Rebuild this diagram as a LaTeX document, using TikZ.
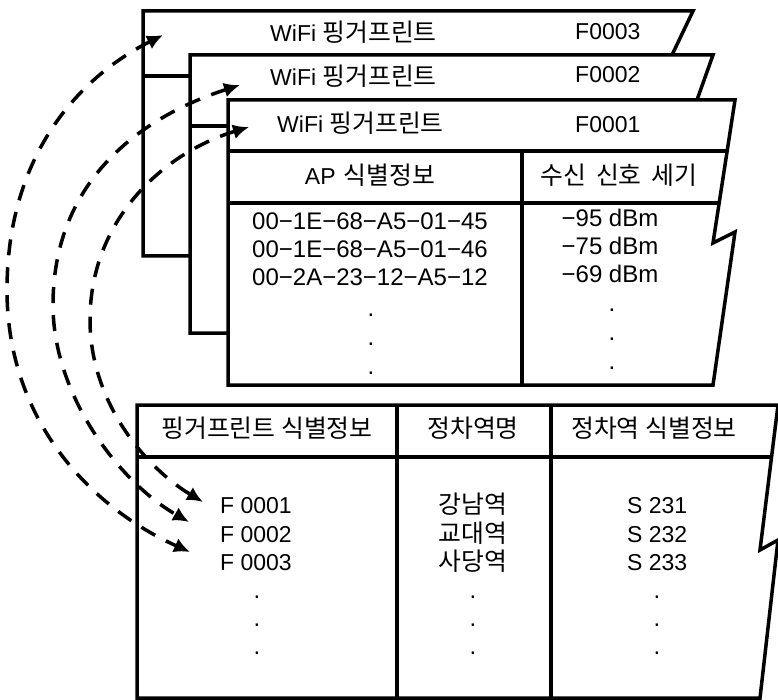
\documentclass[tikz,border=0pt]{standalone}
\usepackage{fontspec}
\setmainfont{Liberation Sans}
\newfontfamily\kr{Noto Sans CJK KR}[Scale=1.08]
\usetikzlibrary{arrows.meta}
\tikzset{
  edge/.style={line width=3.5pt, line join=miter},
  card/.style={edge, fill=white},
  txt/.style={inner sep=0pt, anchor=base, font=\fontsize{23}{27}\selectfont},
  txtw/.style={txt, anchor=base west},
  mac/.style={txt, font=\fontsize{24}{28}\selectfont},
  dotm/.style={inner sep=0pt, font=\fontsize{24}{27}\selectfont},
  link/.style={line width=3.5pt, dash pattern=on 16pt off 12pt,
    {Latex[length=16pt,width=15pt]}-{Latex[length=16pt,width=15pt]}},
}
\begin{document}
\begin{tikzpicture}[x=1pt,y=-1pt]
\useasboundingbox (0,0) rectangle (778,700);

% card 3 (back)
\draw[card] (143,11) -- (693,11) -- (576,256) -- (143,256) -- cycle;
\draw[edge] (143,76) -- (640,76);
% card 2
\draw[card] (190,55) -- (713,55) -- (614,333) -- (190,333) -- cycle;
\draw[edge] (190,126) -- (680,126);
% card 1 (front)
\draw[card] (228,100) -- (735,100) -- (713,243) -- (735,232) -- (713,385) -- (228,385) -- cycle;
\draw[edge] (228,151) -- (727.2,151);
\draw[edge] (228,203) -- (719.2,203);
\draw[edge] (522,151) -- (522,385);

% header texts
\node[txtw] (w3) at (270,42) {WiFi {\kr 핑거프린트}};
\node[txtw] (f3) at (575,40) {F0003};
\node[txtw] (w2) at (270,86) {WiFi {\kr 핑거프린트}};
\node[txtw] (f2) at (575,83) {F0002};
\node[txtw] (w1) at (277,133) {WiFi {\kr 핑거프린트}};
\node[txtw] (f1) at (575,133) {F0001};

\node[txt] (aph) at (370,185) {AP\hspace{0.35em}{\kr 식별정보}};
\node[txt] (rsh) at (619,185) {\kr 수신\hspace{0.4em}신호\hspace{0.4em}세기};

\node[mac] (m1) at (370,230) {00−1E−68−A5−01−45};
\node[mac] (m2) at (370,258) {00−1E−68−A5−01−46};
\node[mac] (m3) at (370,286) {00−2A−23−12−A5−12};
\node[mac] (d1) at (610,227) {−95 dBm};
\node[mac] (d2) at (610,255) {−75 dBm};
\node[mac] (d3) at (610,283) {−69 dBm};
\node[dotm] (md1) at (371,315) {.};
\node[dotm] (md2) at (371,344) {.};
\node[dotm] (md3) at (371,373) {.};
\node[dotm] (dd1) at (612,310) {.};
\node[dotm] (dd2) at (612,339) {.};
\node[dotm] (dd3) at (612,368) {.};

% bottom table
\draw[card] (137,405) -- (778,405) -- (760,550) -- (778,540) -- (760,698) -- (137,698) -- cycle;
\draw[edge] (137,457) -- (771.5,457);
\draw[edge] (397,405) -- (397,698);
\draw[edge] (551,405) -- (551,698);

\node[txt] (h1) at (267,437) {\kr 핑거프린트 식별정보};
\node[txt] (h2) at (473,437) {\kr 정차역명};
\node[txt] (h3) at (654,437) {\kr 정차역 식별정보};

\node[txtw] (r1) at (220,513) {F 0001};
\node[txtw] (r2) at (220,542) {F 0002};
\node[txtw] (r3) at (220,570) {F 0003};
\node[txt] (s1) at (473,513) {\kr 강남역};
\node[txt] (s2) at (473,542) {\kr 교대역};
\node[txt] (s3) at (473,570) {\kr 사당역};
\node[txtw] (i1) at (627,513) {S 231};
\node[txtw] (i2) at (627,542) {S 232};
\node[txtw] (i3) at (627,570) {S 233};

\foreach \x/\n in {257/a,473/b,657/c}{
  \node[dotm] (\n1) at (\x,597) {.};
  \node[dotm] (\n2) at (\x,625) {.};
  \node[dotm] (\n3) at (\x,653) {.};
}

% dashed double arrows
\coordinate (t3) at (163,35);
\coordinate (b3) at (190,552);
\coordinate (t2) at (240,85);
\coordinate (b2) at (189,522);
\coordinate (t1) at (249,127);
\coordinate (b1) at (203,502);
\draw[link] (t3) .. controls (74,80) and (7,160) .. (7,290) .. controls (7,420) and (90,507) .. (b3);
\draw[link] (t2) .. controls (135,119) and (53,185) .. (53,305) .. controls (53,395) and (119,482) .. (b2);
\draw[link] (t1) .. controls (163,153) and (90,220) .. (90,320) .. controls (90,400) and (143,466) .. (b1);
\end{tikzpicture}
\end{document}
